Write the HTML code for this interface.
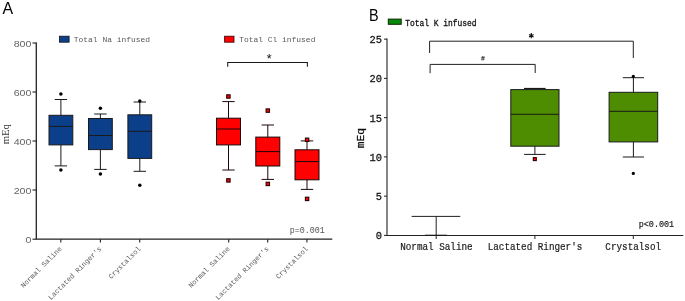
<!DOCTYPE html>
<html><head><meta charset="utf-8"><title>Figure</title>
<style>html,body{margin:0;padding:0;background:#fff;width:685px;height:301px;overflow:hidden;position:relative;font-family:"Liberation Sans",sans-serif}</style></head>
<body>
<svg width="685" height="301" viewBox="0 0 685 301" style="position:absolute;left:0;top:0;will-change:transform;opacity:0.999">
<text transform="translate(2.4,13.9) scale(0.95,1)" font-family="Liberation Sans, sans-serif" font-size="16.8" fill="#000">A</text>
<path d="M36.3 42.6V239.79999999999998M35.699999999999996 239.2H332.3" stroke="#222" stroke-width="1.3" fill="none"/>
<path d="M32.5 43H36.3" stroke="#222" stroke-width="1.1"/>
<text transform="translate(31.5,46.5) scale(1.08,1)" text-anchor="end" font-family="Liberation Sans, sans-serif" font-size="9.9" fill="#666">800</text>
<path d="M32.5 92H36.3" stroke="#222" stroke-width="1.1"/>
<text transform="translate(31.5,95.5) scale(1.08,1)" text-anchor="end" font-family="Liberation Sans, sans-serif" font-size="9.9" fill="#666">600</text>
<path d="M32.5 141H36.3" stroke="#222" stroke-width="1.1"/>
<text transform="translate(31.5,144.5) scale(1.08,1)" text-anchor="end" font-family="Liberation Sans, sans-serif" font-size="9.9" fill="#666">400</text>
<path d="M32.5 190H36.3" stroke="#222" stroke-width="1.1"/>
<text transform="translate(31.5,193.5) scale(1.08,1)" text-anchor="end" font-family="Liberation Sans, sans-serif" font-size="9.9" fill="#666">200</text>
<path d="M32.5 239.2H36.3" stroke="#222" stroke-width="1.1"/>
<text transform="translate(31.5,242.7) scale(1.08,1)" text-anchor="end" font-family="Liberation Sans, sans-serif" font-size="9.9" fill="#666">0</text>
<path d="M60.8 239.2V242.6" stroke="#222" stroke-width="1.1"/>
<path d="M100.4 239.2V242.6" stroke="#222" stroke-width="1.1"/>
<path d="M139.7 239.2V242.6" stroke="#222" stroke-width="1.1"/>
<path d="M228.7 239.2V242.6" stroke="#222" stroke-width="1.1"/>
<path d="M267.7 239.2V242.6" stroke="#222" stroke-width="1.1"/>
<path d="M306.9 239.2V242.6" stroke="#222" stroke-width="1.1"/>
<text transform="translate(9.3,134.2) rotate(-90)" text-anchor="middle" font-family="Liberation Serif, serif" font-size="11" fill="#333" textLength="20.2" lengthAdjust="spacingAndGlyphs">mEq</text>
<rect x="59.5" y="36.2" width="9.6" height="6" fill="#0b3f8a" stroke="#111" stroke-width="0.8"/>
<text x="73.8" y="41.8" font-family="Liberation Mono, monospace" font-size="7.95" fill="#5a5a5a">Total Na infused</text>
<rect x="224.6" y="36.2" width="9.4" height="6" fill="#ff0000" stroke="#300" stroke-width="0.8"/>
<text x="239.2" y="41.8" font-family="Liberation Mono, monospace" font-size="7.95" fill="#5a5a5a">Total Cl infused</text>
<path d="M60.9 115.3V99.5M54.699999999999996 99.5H67.1" stroke="#1a1a1a" stroke-width="1" fill="none"/><path d="M60.9 144.9V165.9M54.699999999999996 165.9H67.1" stroke="#1a1a1a" stroke-width="1" fill="none"/><rect x="49.0" y="115.3" width="23.8" height="29.60000000000001" fill="#0b3f8a" stroke="#1a1a1a" stroke-width="1"/><path d="M49.0 126.4H72.8" stroke="#1a1a1a" stroke-width="1"/>
<circle cx="60.9" cy="94" r="1.75" fill="#000"/><circle cx="60.9" cy="169.9" r="1.75" fill="#000"/>
<path d="M100.4 118.5V114.0M94.2 114.0H106.60000000000001" stroke="#1a1a1a" stroke-width="1" fill="none"/><path d="M100.4 149.6V169.4M94.2 169.4H106.60000000000001" stroke="#1a1a1a" stroke-width="1" fill="none"/><rect x="88.5" y="118.5" width="23.8" height="31.099999999999994" fill="#0b3f8a" stroke="#1a1a1a" stroke-width="1"/><path d="M88.5 135.5H112.3" stroke="#1a1a1a" stroke-width="1"/>
<circle cx="100.4" cy="108.2" r="1.75" fill="#000"/><circle cx="100.4" cy="174" r="1.75" fill="#000"/>
<path d="M139.8 114.8V102M133.60000000000002 102H146.0" stroke="#1a1a1a" stroke-width="1" fill="none"/><path d="M139.8 158.4V171.3M133.60000000000002 171.3H146.0" stroke="#1a1a1a" stroke-width="1" fill="none"/><rect x="127.9" y="114.8" width="23.8" height="43.60000000000001" fill="#0b3f8a" stroke="#1a1a1a" stroke-width="1"/><path d="M127.9 131.3H151.70000000000002" stroke="#1a1a1a" stroke-width="1"/>
<circle cx="139.8" cy="100.9" r="1.75" fill="#000"/><circle cx="139.8" cy="185.2" r="1.75" fill="#000"/>
<path d="M228.5 118.2V101.6M222.3 101.6H234.7" stroke="#1c0606" stroke-width="1" fill="none"/><path d="M228.5 144.9V170.0M222.3 170.0H234.7" stroke="#1c0606" stroke-width="1" fill="none"/><rect x="216.5" y="118.2" width="24.0" height="26.700000000000003" fill="#ff0000" stroke="#1c0606" stroke-width="1"/><path d="M216.5 129.0H240.5" stroke="#1c0606" stroke-width="1"/>
<rect x="226.70000000000002" y="94.8" width="3.4" height="3.4" fill="#ff0000" stroke="#2a0000" stroke-width="1.1"/><rect x="226.70000000000002" y="178.70000000000002" width="3.4" height="3.4" fill="#ff0000" stroke="#2a0000" stroke-width="1.1"/>
<path d="M267.8 137.1V125.0M261.6 125.0H274.0" stroke="#1c0606" stroke-width="1" fill="none"/><path d="M267.8 166.0V179.4M261.6 179.4H274.0" stroke="#1c0606" stroke-width="1" fill="none"/><rect x="255.8" y="137.1" width="24.0" height="28.900000000000006" fill="#ff0000" stroke="#1c0606" stroke-width="1"/><path d="M255.8 151.6H279.8" stroke="#1c0606" stroke-width="1"/>
<rect x="266.1" y="108.89999999999999" width="3.4" height="3.4" fill="#ff0000" stroke="#2a0000" stroke-width="1.1"/><rect x="266.1" y="182.20000000000002" width="3.4" height="3.4" fill="#ff0000" stroke="#2a0000" stroke-width="1.1"/>
<path d="M307.0 149.8V140.9M300.8 140.9H313.2" stroke="#1c0606" stroke-width="1" fill="none"/><path d="M307.0 179.8V189.4M300.8 189.4H313.2" stroke="#1c0606" stroke-width="1" fill="none"/><rect x="295.0" y="149.8" width="24.0" height="30.0" fill="#ff0000" stroke="#1c0606" stroke-width="1"/><path d="M295.0 161.6H319.0" stroke="#1c0606" stroke-width="1"/>
<rect x="305.40000000000003" y="138.10000000000002" width="3.4" height="3.4" fill="#ff0000" stroke="#2a0000" stroke-width="1.1"/><rect x="305.40000000000003" y="197.20000000000002" width="3.4" height="3.4" fill="#ff0000" stroke="#2a0000" stroke-width="1.1"/>
<path d="M227.7 66.8V62.4H307.4V66.8" stroke="#1a1a1a" stroke-width="1.05" fill="none"/>
<text x="269.2" y="63.2" text-anchor="middle" font-family="Liberation Mono, monospace" font-size="13" fill="#111">*</text>
<text x="289.7" y="232.8" font-family="Liberation Mono, monospace" font-size="8.4" fill="#555">p=0.001</text>
<text transform="translate(62.3,249.3) rotate(-45)" text-anchor="end" font-family="Liberation Mono, monospace" font-size="7.05" fill="#5a5a5a">Normal Saline</text>
<text transform="translate(101.9,249.3) rotate(-45)" text-anchor="end" font-family="Liberation Mono, monospace" font-size="7.05" fill="#5a5a5a">Lactated Ringer&#39;s</text>
<text transform="translate(141.2,249.3) rotate(-45)" text-anchor="end" font-family="Liberation Mono, monospace" font-size="7.05" fill="#5a5a5a">Crystalsol</text>
<text transform="translate(230.2,249.3) rotate(-45)" text-anchor="end" font-family="Liberation Mono, monospace" font-size="7.05" fill="#5a5a5a">Normal Saline</text>
<text transform="translate(269.2,249.3) rotate(-45)" text-anchor="end" font-family="Liberation Mono, monospace" font-size="7.05" fill="#5a5a5a">Lactated Ringer&#39;s</text>
<text transform="translate(308.4,249.3) rotate(-45)" text-anchor="end" font-family="Liberation Mono, monospace" font-size="7.05" fill="#5a5a5a">Crystalsol</text>
<text transform="translate(368.9,20.7) scale(0.88,1)" font-family="Liberation Sans, sans-serif" font-size="16.4" fill="#000">B</text>
<path d="M387.0 38.6V236.0M386.5 235.5H683.3" stroke="#222" stroke-width="1.1" fill="none"/>
<path d="M384.0 39.150000000000006H387.0" stroke="#222" stroke-width="1"/>
<text transform="translate(381.9,43.050000000000004) scale(0.93,1)" text-anchor="end" font-family="Liberation Mono, monospace" font-size="11.2" fill="#111" stroke="#111" stroke-width="0.26">25</text>
<path d="M384.0 78.4H387.0" stroke="#222" stroke-width="1"/>
<text transform="translate(381.9,82.30000000000001) scale(0.93,1)" text-anchor="end" font-family="Liberation Mono, monospace" font-size="11.2" fill="#111" stroke="#111" stroke-width="0.26">20</text>
<path d="M384.0 117.65H387.0" stroke="#222" stroke-width="1"/>
<text transform="translate(381.9,121.55000000000001) scale(0.93,1)" text-anchor="end" font-family="Liberation Mono, monospace" font-size="11.2" fill="#111" stroke="#111" stroke-width="0.26">15</text>
<path d="M384.0 156.9H387.0" stroke="#222" stroke-width="1"/>
<text transform="translate(381.9,160.8) scale(0.93,1)" text-anchor="end" font-family="Liberation Mono, monospace" font-size="11.2" fill="#111" stroke="#111" stroke-width="0.26">10</text>
<path d="M384.0 196.15H387.0" stroke="#222" stroke-width="1"/>
<text transform="translate(381.9,200.05) scale(0.93,1)" text-anchor="end" font-family="Liberation Mono, monospace" font-size="11.2" fill="#111" stroke="#111" stroke-width="0.26">5</text>
<path d="M384.0 235.4H387.0" stroke="#222" stroke-width="1"/>
<text transform="translate(381.9,239.3) scale(0.93,1)" text-anchor="end" font-family="Liberation Mono, monospace" font-size="11.2" fill="#111" stroke="#111" stroke-width="0.26">0</text>
<path d="M436.2 235.5V239.0" stroke="#222" stroke-width="1"/>
<path d="M534.9 235.5V239.0" stroke="#222" stroke-width="1"/>
<path d="M633.3 235.5V239.0" stroke="#222" stroke-width="1"/>
<text transform="translate(364.3,138.2) rotate(-90) scale(1.0,1)" text-anchor="middle" font-family="Liberation Mono, monospace" font-size="11.3" fill="#111" stroke="#111" stroke-width="0.3">mEq</text>
<rect x="388.3" y="19.1" width="12.9" height="5.2" fill="#078a07" stroke="#0a2a00" stroke-width="1"/>
<text transform="translate(405.2,25.9) scale(0.845,1)" text-anchor="start" font-family="Liberation Mono, monospace" font-size="9.4" fill="#111" stroke="#111" stroke-width="0.3">Total K infused</text>
<path d="M436.2 235.4V216.4M411.6 216.4H460.3" stroke="#222" stroke-width="1" fill="none"/>
<path d="M425 235.1H446.8" stroke="#111" stroke-width="0.7"/>
<path d="M534.9 146.2V154.4M524.1 154.4H545.6999999999999" stroke="#1a1a1a" stroke-width="1" fill="none"/><rect x="510.79999999999995" y="89.6" width="48.2" height="56.599999999999994" fill="#4e8d00" stroke="#1a1a1a" stroke-width="1"/><path d="M510.79999999999995 114.3H559.0" stroke="#1a1a1a" stroke-width="1"/>
<path d="M524 88.5H545.6" stroke="#1a1a1a" stroke-width="1.2"/>
<rect x="533.3" y="157.6" width="3.0" height="3.0" fill="#ff0000" stroke="#2a0000" stroke-width="1.1"/>
<path d="M633.4 92.3V77.7M622.8 77.7H644.0" stroke="#1a1a1a" stroke-width="1" fill="none"/><path d="M633.4 141.9V157M622.8 157H644.0" stroke="#1a1a1a" stroke-width="1" fill="none"/><rect x="609.1" y="92.3" width="48.6" height="49.60000000000001" fill="#4e8d00" stroke="#1a1a1a" stroke-width="1"/><path d="M609.1 111.3H657.7" stroke="#1a1a1a" stroke-width="1"/>
<circle cx="633.3" cy="76.4" r="1.6" fill="#000"/><circle cx="633.3" cy="173.4" r="1.6" fill="#000"/>
<path d="M429.6 53.0V41.2H633.3V58.0" stroke="#222" stroke-width="1" fill="none"/>
<path d="M430.1 73.2V64.4H535.2V73.0" stroke="#222" stroke-width="1" fill="none"/>
<path d="M531.3 33.1V38.3M529.05 34.4L533.55 37M533.55 34.4L529.05 37" stroke="#111" stroke-width="1.15" fill="none"/>
<path d="M482.2 56V60.5M483.6 56V60.5M481 57.4H484.8M481 59.1H484.8" stroke="#222" stroke-width="0.6" fill="none" transform="skewX(-8) translate(8.2,0)"/>
<text transform="translate(638.7,226.9) scale(1.0,1)" text-anchor="start" font-family="Liberation Mono, monospace" font-size="8.45" fill="#222" stroke="#222" stroke-width="0.18">p&lt;0.001</text>
<text transform="translate(436.4,250.1) scale(0.92,1)" text-anchor="middle" font-family="Liberation Mono, monospace" font-size="10.1" fill="#1c1c1c" stroke="#1c1c1c" stroke-width="0.2">Normal Saline</text>
<text transform="translate(535,250.1) scale(0.92,1)" text-anchor="middle" font-family="Liberation Mono, monospace" font-size="10.1" fill="#1c1c1c" stroke="#1c1c1c" stroke-width="0.2">Lactated Ringer&#39;s</text>
<text transform="translate(633.2,250.1) scale(0.92,1)" text-anchor="middle" font-family="Liberation Mono, monospace" font-size="10.1" fill="#1c1c1c" stroke="#1c1c1c" stroke-width="0.2">Crystalsol</text>
</svg>
</body></html>
